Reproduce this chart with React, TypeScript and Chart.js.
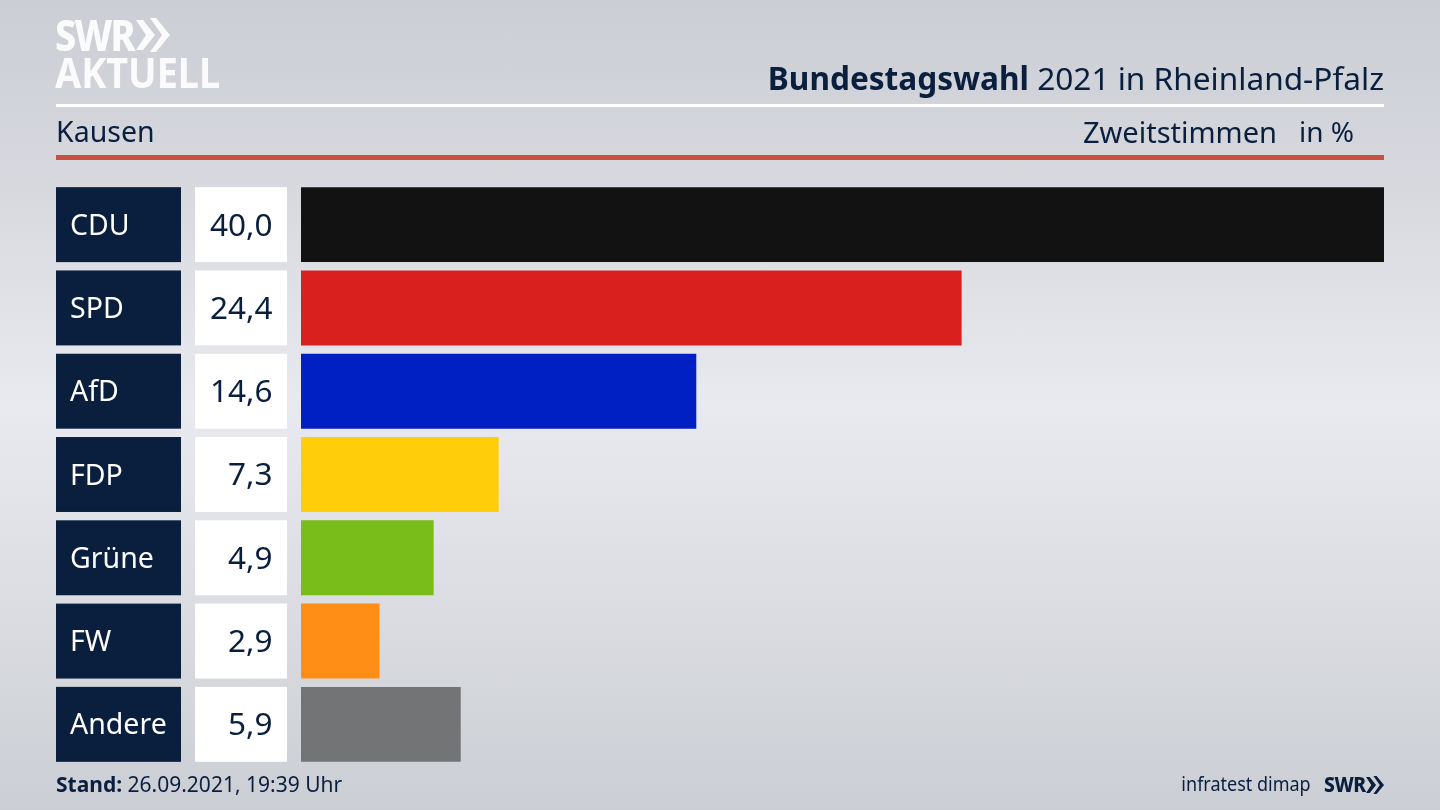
import { useEffect, useRef } from 'react';
import { Chart, registerables } from 'chart.js';
import type { Plugin } from 'chart.js';

Chart.register(...registerables);

const parties = ['CDU', 'SPD', 'AfD', 'FDP', 'Grüne', 'FW', 'Andere'];
const shares = [40.0, 24.4, 14.6, 7.3, 4.9, 2.9, 5.9];
const barColors = ['#121212', '#d9201f', '#0020c4', '#ffcd0a', '#79bd1a', '#ff8e17', '#737476'];

const NAVY = '#0a1f3e';
const FONT = '"Noto Sans", sans-serif';

// navy label boxes and white value boxes left of the bars
const rowBoxes: Plugin<'bar'> = {
  id: 'rowBoxes',
  beforeDraw(chart) {
    const { ctx } = chart;
    const y = chart.scales.y;
    const bar = chart.getDatasetMeta(0).data;
    ctx.save();
    parties.forEach((_, i) => {
      const mid = y.getPixelForValue(i);
      const h = (bar[i] as any).height;
      ctx.fillStyle = NAVY;
      ctx.fillRect(56, mid - h / 2, 125, h);
      ctx.fillStyle = '#ffffff';
      ctx.fillRect(195, mid - h / 2, 92, h);
    });
    ctx.restore();
  },
  afterDraw(chart) {
    const { ctx } = chart;
    const y = chart.scales.y;
    ctx.save();
    ctx.fillStyle = NAVY;
    ctx.font = `31.5px ${FONT}`;
    ctx.textAlign = 'right';
    ctx.textBaseline = 'middle';
    shares.forEach((v, i) => {
      ctx.fillText(v.toFixed(1).replace('.', ','), 272.5, y.getPixelForValue(i) + 2);
    });
    ctx.restore();
  },
};

function Chevrons({ x, y, h, color }: { x: number; y: number; h: number; color: string }) {
  return (
    <svg style={{ position: 'absolute', left: x, top: y }} width={h} height={h} viewBox="0 0 34 34">
      <polygon points="0,2 7,2 19,17 7,32 0,32 10,17" fill={color} />
      <polygon points="14,0 20,0 34,17 20,34 14,34 26,17" fill={color} />
    </svg>
  );
}

function Label({ style, children }: { style: React.CSSProperties; children: React.ReactNode }) {
  return <div style={{ position: 'absolute', whiteSpace: 'nowrap', lineHeight: 1, ...style }}>{children}</div>;
}

export default function App() {
  const canvasRef = useRef<HTMLCanvasElement>(null);

  useEffect(() => {
    document.body.style.margin = '0';
    if (!canvasRef.current) return;
    const chart = new Chart(canvasRef.current, {
      type: 'bar',
      data: {
        labels: parties,
        datasets: [
          {
            data: shares,
            backgroundColor: barColors,
            barPercentage: 0.9,
            categoryPercentage: 1,
          },
        ],
      },
      options: {
        indexAxis: 'y',
        responsive: false,
        animation: false,
        layout: { padding: { left: 70, right: 56, top: 183, bottom: 44 } },
        plugins: { legend: { display: false }, tooltip: { enabled: false } },
        scales: {
          x: { display: false, min: 0, max: 40 },
          y: {
            afterFit: (scale) => {
              scale.width = 231;
            },
            grid: { display: false },
            border: { display: false },
            ticks: {
              color: '#ffffff',
              crossAlign: 'far',
              labelOffset: 2,
              font: { family: '"Noto Sans"', size: 28.5 },
            },
          },
        },
      },
      plugins: [rowBoxes],
    });
    return () => chart.destroy();
  }, []);

  return (
    <div
      style={{
        position: 'relative',
        width: 1440,
        height: 810,
        overflow: 'hidden',
        fontFamily: FONT,
        color: NAVY,
        background: 'linear-gradient(180deg, #cbced4 0%, #d6d8de 22%, #e9eaef 50%, #d9dbe0 78%, #cbced4 100%)',
      }}
    >
      <canvas ref={canvasRef} width={1440} height={810} style={{ position: 'absolute', left: 0, top: 0 }} />

      <Label style={{ left: 55, top: 14, fontSize: 42, fontWeight: 800, color: '#fbfbfc', letterSpacing: -2, transform: 'scaleX(0.9)', transformOrigin: 'left' }}>SWR</Label>
      <Chevrons x={136} y={18} h={34} color="#fbfbfc" />
      <Label style={{ left: 55, top: 51, fontSize: 42, fontWeight: 700, color: '#fbfbfc', transform: 'scaleX(0.9)', transformOrigin: 'left' }}>AKTUELL</Label>

      <Label style={{ right: 56, top: 62, fontSize: 31.6 }}>
        <b>Bundestagswahl</b> 2021 in Rheinland-Pfalz
      </Label>
      <div style={{ position: 'absolute', left: 56, top: 104, width: 1328, height: 3, background: '#ffffff' }} />

      <Label style={{ left: 56, top: 117, fontSize: 28.5 }}>Kausen</Label>
      <Label style={{ right: 163, top: 117, fontSize: 29 }}>Zweitstimmen</Label>
      <Label style={{ right: 86, top: 117, fontSize: 28 }}>in %</Label>
      <div style={{ position: 'absolute', left: 56, top: 155, width: 1328, height: 5, background: '#c9503f' }} />

      <Label style={{ left: 56, top: 774, fontSize: 21 }}>
        <b>Stand:</b> 26.09.2021, 19:39 Uhr
      </Label>
      <Label style={{ right: 129, top: 774, fontSize: 20, transform: 'scaleX(0.9)', transformOrigin: 'right' }}>infratest dimap</Label>
      <Label style={{ left: 1324, top: 774, fontSize: 21, fontWeight: 800, letterSpacing: -0.5, transform: 'scaleX(0.92)', transformOrigin: 'left' }}>SWR</Label>
      <Chevrons x={1366} y={776} h={18} color={NAVY} />
    </div>
  );
}
